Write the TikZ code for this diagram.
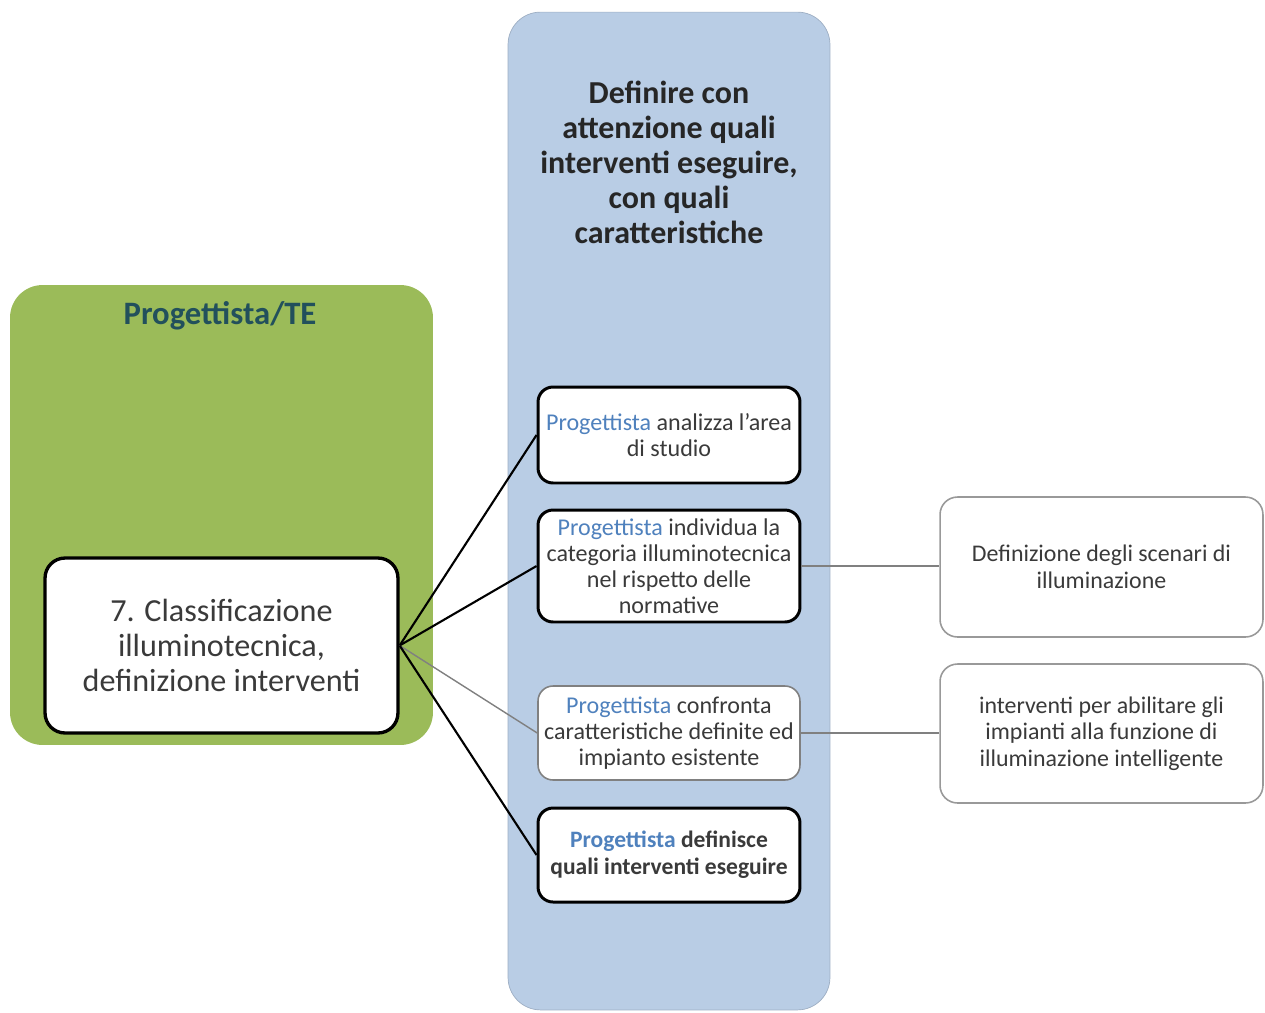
\documentclass[tikz,border=0pt]{standalone}
\usepackage{fontspec}
\setmainfont{Carlito}
\definecolor{laneGreen}{HTML}{9BBB59}
\definecolor{laneBlue}{HTML}{B9CDE5}
\definecolor{roleBlue}{HTML}{4F81BD}
\definecolor{roleTeal}{HTML}{22505C}
\definecolor{textGray}{HTML}{3A3A3A}
\newcommand{\role}[1]{\textcolor{roleBlue}{#1}}
\begin{document}
\begin{tikzpicture}[x=0.02cm, y=-0.02cm,
    lane/.style={rounded corners=0.65cm, inner sep=0pt},
    taskbox/.style={draw=black, line width=1.7pt, fill=white, rounded corners=0.3cm,
      minimum width=5.24cm, align=center, text=textGray, inner sep=1pt,
      font=\fontsize{13.7}{14.8}\selectfont},
    outbox/.style={draw=gray!80, line width=0.9pt, fill=white, rounded corners=0.35cm,
      minimum width=6.46cm, align=center, text=textGray, inner sep=1pt,
      font=\fontsize{13.6}{15.2}\selectfont},
    link/.style={line width=1.2pt},
    thinlink/.style={draw=gray, line width=0.8pt}]
    \useasboundingbox (0,0) rectangle (1265,1012);
    % lanes
    \node[lane, fill=laneGreen, minimum width=8.46cm, minimum height=9.2cm] (te) at (221.5,515) {};
    \node[lane, fill=laneBlue, draw=laneBlue!85!black, line width=0.4pt,
      minimum width=6.44cm, minimum height=19.96cm] (goal) at (669,511) {};
    \node[text=roleTeal, font=\bfseries\fontsize{18.6}{19}\selectfont] (te-title) at (220,316) {Progettista/TE};
    \node[align=center, text=black!85, font=\bfseries\fontsize{18.2}{19.9}\selectfont] (goal-title) at (669,162)
      {Definire con\\attenzione quali\\interventi eseguire,\\con quali\\caratteristiche};
    % activity
    \node[draw=black, line width=1.9pt, fill=white, rounded corners=0.4cm, minimum width=7.06cm,
      minimum height=3.5cm, align=center, text=textGray, font=\fontsize{18.3}{19.9}\selectfont] (phase) at (221.5,645.5)
      {7. Classificazione\\illuminotecnica,\\definizione interventi};
    % tasks
    \node[taskbox, minimum height=1.92cm] (analizza) at (669,435) {\role{Progettista} analizza l'area\\di studio};
    \node[taskbox, minimum height=2.24cm] (individua) at (669,566)
      {\role{Progettista} individua la\\categoria illuminotecnica\\nel rispetto delle\\normative};
    \node[taskbox, draw=gray, line width=0.9pt, minimum height=1.88cm] (confronta) at (669,733)
      {\role{Progettista} confronta\\caratteristiche definite ed\\impianto esistente};
    \node[taskbox, minimum height=1.88cm, font=\bfseries\fontsize{13.4}{15.2}\selectfont] (definisce) at (669,855)
      {\role{Progettista} definisce\\quali interventi eseguire};
    % outputs
    \node[outbox, minimum height=2.8cm] (scenari) at (1101.5,567) {Definizione degli scenari di\\illuminazione};
    \node[outbox, minimum height=2.78cm] (abilitare) at (1101.5,733.5)
      {interventi per abilitare gli\\impianti alla funzione di\\illuminazione intelligente};
    % links
    \draw[link] (phase.east) -- (analizza.west);
    \draw[link] (phase.east) -- (individua.west);
    \draw[thinlink] (phase.east) -- (confronta.west);
    \draw[link] (phase.east) -- (definisce.west);
    \draw[thinlink] (individua.east) -- (individua.east -| scenari.west);
    \draw[thinlink] (confronta.east) -- (confronta.east -| abilitare.west);
  \end{tikzpicture}
\end{document}
